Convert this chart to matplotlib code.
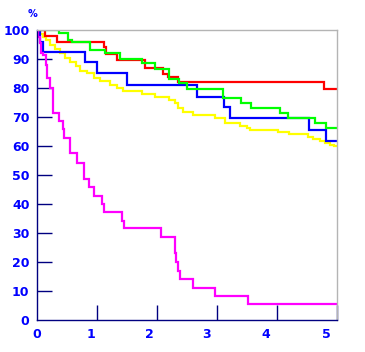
import matplotlib
matplotlib.use("Agg")
import matplotlib.pyplot as plt
from matplotlib.transforms import ScaledTranslation

# 生存曲线数据 (时间, 百分比)
red_t = [0, 0.14, 0.34, 1.13, 1.16, 1.34, 1.81, 2.11, 2.19, 2.36, 4.79, 5.0]
red_y = [100, 98.0, 96.0, 94.0, 91.7, 89.7, 86.8, 84.7, 83.7, 82.0, 79.7, 79.7]

green_t = [0, 0.38, 0.53, 0.59, 0.89, 1.14, 1.39, 1.75, 1.97, 2.21, 2.38, 2.51,
           3.11, 3.41, 3.58, 4.05, 4.19, 4.64, 4.83, 5.0]
green_y = [100, 98.9, 96.6, 95.8, 93.1, 92.0, 90.0, 88.7, 86.4, 83.0, 81.8, 79.8,
           76.4, 74.9, 73.2, 71.3, 69.8, 68.0, 66.1, 66.1]

blue_t = [0, 0.05, 0.11, 0.80, 1.0, 1.5, 2.67, 3.13, 3.23, 4.54, 4.83, 5.0]
blue_y = [100, 96.0, 92.5, 89.1, 85.1, 81.0, 77.0, 73.3, 69.5, 65.5, 61.6, 61.6]

yellow_t = [0, 0.05, 0.10, 0.15, 0.23, 0.30, 0.39, 0.47, 0.56, 0.65, 0.73, 0.84,
            0.95, 1.06, 1.23, 1.34, 1.44, 1.76, 1.98, 2.20, 2.31, 2.36, 2.44,
            2.61, 2.98, 3.14, 3.39, 3.50, 3.56, 4.03, 4.20, 4.53, 4.61, 4.73,
            4.81, 4.89, 4.95, 5.0]
yellow_y = [100, 98.5, 97.5, 96.5, 94.8, 93.5, 92.0, 90.5, 89.0, 87.5, 86.0, 85.0,
            83.5, 82.5, 81.0, 79.9, 79.0, 77.9, 77.0, 75.9, 74.7, 73.1, 71.8,
            70.7, 69.5, 67.8, 66.9, 66.1, 65.5, 64.8, 64.1, 63.2, 62.4, 61.7,
            61.1, 60.3, 60.0, 60.0]

magenta_t = [0, 0.03, 0.06, 0.08, 0.11, 0.15, 0.17, 0.22, 0.28, 0.38, 0.44, 0.46,
             0.55, 0.67, 0.79, 0.875, 0.96, 1.09, 1.13, 1.43, 1.45, 2.08, 2.31,
             2.32, 2.36, 2.39, 2.60, 2.98, 3.53, 5.0]
magenta_y = [100, 97.7, 95.5, 92.0, 91.4, 88.0, 83.4, 80.0, 71.5, 68.7, 65.8, 62.9,
             57.5, 54.3, 48.5, 45.8, 42.8, 40.0, 37.4, 34.2, 31.6, 28.6, 23.0,
             20.1, 17.0, 14.0, 11.1, 8.4, 5.5, 5.5]

x_ticks = [0, 1, 2, 3, 4, 5]
y_ticks = [0, 10, 20, 30, 40, 50, 60, 70, 80, 90, 100]

tick_font = dict(family=['Liberation Sans Narrow', 'DejaVu Sans'], weight='bold', size=9)

fig = plt.figure(figsize=(3.65, 3.52), dpi=100)
ax = fig.add_axes([0.1, 0.0909, 0.822, 0.824])

series = [
    (yellow_t, yellow_y, '#FFFF00'),
    (blue_t, blue_y, '#0000FF'),
    (red_t, red_y, '#FF0000'),
    (green_t, green_y, '#00FF00'),
    (magenta_t, magenta_y, '#FF00FF'),
]
for t, y, c in series:
    ax.step(t, y, where='post', color=c, lw=1.6, solid_joinstyle='miter')

ax.set_xlim(0, 5)
ax.set_ylim(0, 100)

ax.spines['left'].set_color('#000080')
ax.spines['bottom'].set_color('#000080')
ax.spines['top'].set_color('#B4B4B4')
ax.spines['right'].set_color('#B4B4B4')
for s in ax.spines.values():
    s.set_linewidth(1.0)

ax.set_xticks(x_ticks)
ax.set_yticks(y_ticks)
ax.set_xticklabels([str(v) for v in x_ticks], **tick_font)
ax.set_yticklabels([str(v) for v in y_ticks], **tick_font)
ax.tick_params(direction='in', length=11, width=1.0, color='#000080',
               labelcolor='#0000FF', pad=5)
ax.tick_params(axis='x', pad=6)

# 顶部和原点处刻度线不画
ax.yaxis.get_major_ticks()[0].tick1line.set_visible(False)
ax.yaxis.get_major_ticks()[-1].tick1line.set_visible(False)
ax.xaxis.get_major_ticks()[0].tick1line.set_visible(False)

# x 轴标签略向左偏
offsets = [0, -6, -7, -10, -11, -10]
for lab, dx in zip(ax.get_xticklabels(), offsets):
    lab.set_transform(lab.get_transform() + ScaledTranslation(dx / 100, 0, fig.dpi_scale_trans))

fig.text(33 / 365, 1 - 14 / 352, '%', color='#0000FF', ha='center', va='center',
         family=['Liberation Sans Narrow', 'DejaVu Sans'], weight='bold', size=7)

fig.savefig('out.png', dpi=100)
